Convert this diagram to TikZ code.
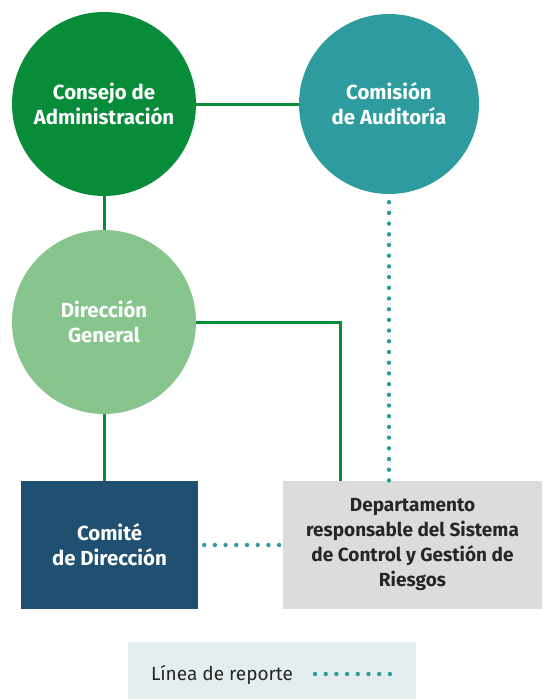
\documentclass[tikz,border=0pt]{standalone}
\usepackage{fontspec}
\setmainfont{Fira Sans}
\usetikzlibrary{positioning,calc}

\definecolor{cgreen}{HTML}{078D3A}
\definecolor{cteal}{HTML}{2E9C9E}
\definecolor{clight}{HTML}{88C48E}
\definecolor{cnavy}{HTML}{1F4F71}
\definecolor{cgray}{HTML}{DCDCDA}
\definecolor{clegend}{HTML}{E4EEEE}

\begin{document}
\begin{tikzpicture}[
    x=1pt, y=-1pt,
    font=\fontsize{20.4}{25}\selectfont\bfseries,
    organ/.style={circle, minimum size=184pt, inner sep=0pt, text=white, align=center},
    unit/.style={rectangle, minimum height=128pt, inner sep=0pt, align=center},
    solidline/.style={cgreen, line width=3pt},
    report/.style={cteal, line width=4.4pt, line cap=round, dash pattern=on 0pt off 10.7pt}
  ]
    \useasboundingbox (0,0) rectangle (542,699);

    \node[organ, fill=cgreen] (consejo) at (104,104) {Consejo de\\Administración};
    \node[organ, fill=cteal, minimum size=180pt] (comision) at (389,104) {Comisión\\de Auditoría};
    \node[organ, fill=clight] (direccion) at (104,322) {Dirección\\General};
    \node[unit, fill=cnavy, text=white, minimum width=177pt] (comite) at (109.5,545) {Comité\\de Dirección};
    \node[unit, fill=cgray, text=black!85, minimum width=259pt, font=\fontsize{19}{25}\selectfont\bfseries] (depto) at (412.5,545)
      {Departamento\\responsable del Sistema\\de Control y Gestión de\\Riesgos};
    \coordinate (deptotop) at (340,481);

    % lineas de dependencia
    \draw[solidline] (consejo.east) -- (comision.west);
    \draw[solidline] (consejo.south) -- (direccion.north);
    \draw[solidline] (direccion.south) -- (direccion.south |- comite.north);
    \draw[solidline] (direccion.east) -| (deptotop);

    % lineas de reporte
    \draw[report] ($(comision.south)+(0,8)$) -- (comision.south |- depto.north);
    \draw[report] ($(comite.east)+(6,0)$) -- (depto.west);

    % leyenda
    \node[fill=clegend, minimum width=288pt, minimum height=57pt, inner sep=0pt] (leyenda) at (272,670.5) {};
    \node[font=\fontsize{19}{22}\selectfont, text=black!85] (leyendatxt) at (222,675) {Línea de reporte};
    \coordinate (dotsstart) at (315,674);
    \coordinate (dotsend) at (392,674);
    \draw[report] (dotsstart) -- (dotsend);
  \end{tikzpicture}
\end{document}
